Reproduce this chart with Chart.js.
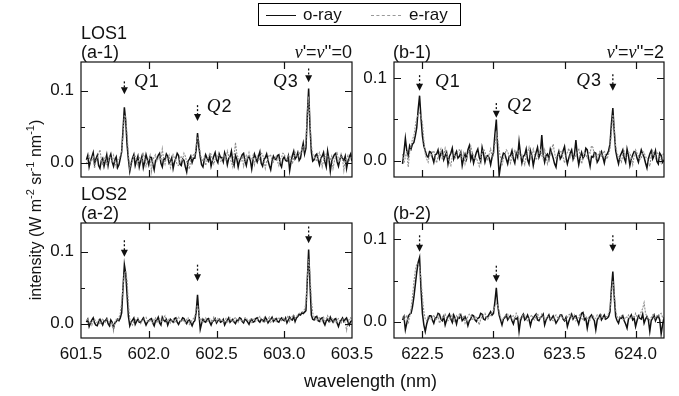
<!DOCTYPE html>
<html><head><meta charset="utf-8">
<script src="https://cdn.jsdelivr.net/npm/chart.js@4/dist/chart.umd.min.js"></script>
<style>
html,body{margin:0;padding:0;background:#fff;}
#wrap{position:relative;width:679px;height:396px;overflow:hidden;font-family:"Liberation Sans",Arial,sans-serif;color:#111;}
canvas{position:absolute;left:0;top:0;}
.lbl{position:absolute;font-size:18px;line-height:18px;white-space:nowrap;}
.vi{font-family:"Liberation Serif",serif;font-style:italic;}
#legend{position:absolute;left:258px;top:3px;width:203px;height:23px;border:1px solid #000;box-sizing:border-box;}
#legend .ln{position:absolute;top:11px;width:30px;height:0;}
#legend .tx{position:absolute;top:2px;font-size:17px;line-height:17px;}
#ytitle{position:absolute;left:-94px;top:201px;width:260px;height:18px;line-height:18px;text-align:center;font-size:16px;transform:rotate(-90deg);white-space:nowrap;}
#ytitle sup{font-size:11px;line-height:0;vertical-align:7px;}
</style></head><body>
<div id="wrap">
<canvas id="ca1" width="679" height="396"></canvas>
<canvas id="cb1" width="679" height="396"></canvas>
<canvas id="ca2" width="679" height="396"></canvas>
<canvas id="cb2" width="679" height="396"></canvas>
<div id="legend">
  <div class="ln" style="left:7px;border-top:1.6px solid #111;"></div>
  <div class="tx" style="left:44px;">o-ray</div>
  <div class="ln" style="left:112px;border-top:1px dashed #999;"></div>
  <div class="tx" style="left:150px;">e-ray</div>
</div>
<div class="lbl" style="left:81px;top:24px;">LOS1</div>
<div class="lbl" style="left:81px;top:43px;">(a-1)</div>
<div class="lbl" style="left:393px;top:43px;">(b-1)</div>
<div class="lbl" style="right:327px;top:43px;"><span class="vi">v</span>'=<span class="vi">v</span>''=0</div>
<div class="lbl" style="right:15px;top:43px;"><span class="vi">v</span>'=<span class="vi">v</span>''=2</div>
<div class="lbl" style="left:81px;top:185px;">LOS2</div>
<div class="lbl" style="left:81px;top:204px;">(a-2)</div>
<div class="lbl" style="left:393px;top:204px;">(b-2)</div>
<div class="lbl" style="left:304px;top:372px;">wavelength (nm)</div>
<div id="ytitle">intensity (W m<sup>-2</sup> sr<sup>-1</sup> nm<sup>-1</sup>)</div>
</div>
<script>
// ---- data ----
const waveA = [
601.54,601.55,601.56,601.57,601.58,601.59,601.60,601.61,601.62,601.63,601.64,601.65,601.66,601.67,601.68,601.69,601.70,601.71,601.72,601.73,
601.74,601.75,601.76,601.77,601.78,601.79,601.80,601.81,601.82,601.83,601.84,601.85,601.86,601.87,601.88,601.89,601.90,601.91,601.92,601.93,
601.94,601.95,601.96,601.97,601.98,601.99,602.00,602.01,602.02,602.03,602.04,602.05,602.06,602.07,602.08,602.09,602.10,602.11,602.12,602.13,
602.14,602.15,602.16,602.17,602.18,602.19,602.20,602.21,602.22,602.23,602.24,602.25,602.26,602.27,602.28,602.29,602.30,602.31,602.32,602.33,
602.34,602.35,602.36,602.37,602.38,602.39,602.40,602.41,602.42,602.43,602.44,602.45,602.46,602.47,602.48,602.49,602.50,602.51,602.52,602.53,
602.54,602.55,602.56,602.57,602.58,602.59,602.60,602.61,602.62,602.63,602.64,602.65,602.66,602.67,602.68,602.69,602.70,602.71,602.72,602.73,
602.74,602.75,602.76,602.77,602.78,602.79,602.80,602.81,602.82,602.83,602.84,602.85,602.86,602.87,602.88,602.89,602.90,602.91,602.92,602.93,
602.94,602.95,602.96,602.97,602.98,602.99,603.00,603.01,603.02,603.03,603.04,603.05,603.06,603.07,603.08,603.09,603.10,603.11,603.12,603.13,
603.14,603.15,603.16,603.17,603.18,603.19,603.20,603.21,603.22,603.23,603.24,603.25,603.26,603.27,603.28,603.29,603.30,603.31,603.32,603.33,
603.34,603.35,603.36,603.37,603.38,603.39,603.40,603.41,603.42,603.43,603.44,603.45,603.46,603.47,603.48,603.49,603.50];
const waveB = [
622.36,622.37,622.38,622.39,622.40,622.41,622.42,622.43,622.44,622.45,622.46,622.47,622.48,622.49,622.50,622.51,622.52,622.53,622.54,622.55,
622.56,622.57,622.58,622.59,622.60,622.61,622.62,622.63,622.64,622.65,622.66,622.67,622.68,622.69,622.70,622.71,622.72,622.73,622.74,622.75,
622.76,622.77,622.78,622.79,622.80,622.81,622.82,622.83,622.84,622.85,622.86,622.87,622.88,622.89,622.90,622.91,622.92,622.93,622.94,622.95,
622.96,622.97,622.98,622.99,623.00,623.01,623.02,623.03,623.04,623.05,623.06,623.07,623.08,623.09,623.10,623.11,623.12,623.13,623.14,623.15,
623.16,623.17,623.18,623.19,623.20,623.21,623.22,623.23,623.24,623.25,623.26,623.27,623.28,623.29,623.30,623.31,623.32,623.33,623.34,623.35,
623.36,623.37,623.38,623.39,623.40,623.41,623.42,623.43,623.44,623.45,623.46,623.47,623.48,623.49,623.50,623.51,623.52,623.53,623.54,623.55,
623.56,623.57,623.58,623.59,623.60,623.61,623.62,623.63,623.64,623.65,623.66,623.67,623.68,623.69,623.70,623.71,623.72,623.73,623.74,623.75,
623.76,623.77,623.78,623.79,623.80,623.81,623.82,623.83,623.84,623.85,623.86,623.87,623.88,623.89,623.90,623.91,623.92,623.93,623.94,623.95,
623.96,623.97,623.98,623.99,624.00,624.01,624.02,624.03,624.04,624.05,624.06,624.07,624.08,624.09,624.10,624.11,624.12,624.13,624.14,624.15,
624.16,624.17,624.18,624.19,624.20];

const a1_oray = [
0.004,0.010,-0.006,0.002,0.008,0.014,-0.002,0.005,0.010,-0.004,-0.008,0.003,0.006,-0.005,0.003,0.011,-0.004,0.007,0.012,0.001,
-0.005,0.004,0.008,-0.007,-0.003,0.006,0.015,0.045,0.077,0.058,0.025,0.004,-0.012,-0.002,0.006,0.011,-0.004,0.003,0.009,-0.006,
0.002,0.009,-0.007,0.001,0.011,0.004,-0.003,0.008,0.007,-0.002,-0.010,0.003,0.005,0.010,0.013,-0.001,-0.006,0.006,0.004,0.012,
0.009,-0.001,0.002,0.007,-0.008,0.001,0.006,0.013,0.010,-0.002,-0.004,0.005,0.003,-0.006,-0.013,0.002,0.005,0.009,0.000,0.006,
0.006,0.018,0.041,0.022,0.008,-0.003,-0.006,0.004,0.011,0.006,0.002,0.009,-0.005,0.003,0.009,0.014,0.004,0.000,0.012,0.007,
0.007,0.001,0.014,0.008,-0.003,0.006,0.008,0.016,0.002,-0.004,0.010,0.005,-0.006,0.003,0.006,0.011,0.013,0.002,-0.004,0.007,
0.008,0.003,-0.009,0.004,0.012,0.006,0.001,0.009,0.015,-0.001,-0.005,0.004,0.007,0.012,0.003,-0.004,-0.010,0.002,0.009,0.005,
0.004,0.010,0.011,-0.002,-0.006,0.005,0.008,0.003,0.002,0.009,-0.011,0.001,0.010,0.016,0.005,0.008,0.014,0.003,0.006,0.018,
0.027,0.012,0.020,0.065,0.103,0.050,0.015,0.002,0.004,0.010,0.012,0.004,-0.003,0.006,0.009,0.014,0.001,-0.006,0.016,0.005,
-0.012,0.002,0.007,0.011,0.013,0.001,-0.005,0.004,0.010,0.006,0.003,0.009,-0.008,0.002,0.008,0.012,0.002];
const a1_eray = [
-0.002,0.005,0.009,0.001,0.003,0.010,-0.008,0.002,0.006,0.012,0.018,0.004,-0.004,0.003,0.008,-0.002,0.001,0.009,0.007,0.002,
0.010,0.002,-0.006,0.004,0.005,0.009,0.015,0.038,0.066,0.064,0.040,0.012,-0.008,0.001,0.003,0.010,0.009,0.002,-0.003,0.007,
0.006,0.001,0.012,0.007,-0.005,0.002,0.004,0.010,-0.012,0.003,0.008,0.011,0.002,0.006,0.009,0.003,0.019,0.005,-0.002,0.008,
0.005,0.010,-0.007,0.000,0.011,0.006,0.003,-0.003,-0.004,0.007,0.008,0.004,0.013,0.009,0.001,-0.002,-0.009,0.004,0.007,0.011,
0.010,0.024,0.036,0.030,0.012,0.005,0.002,0.008,-0.004,0.003,0.007,0.013,0.012,0.004,-0.002,0.005,0.006,0.011,0.009,0.002,
0.003,0.008,0.011,0.004,0.016,0.009,0.005,0.001,-0.006,0.010,0.028,0.012,0.007,0.003,0.002,0.009,-0.005,0.004,0.010,0.006,
0.014,0.006,0.004,0.010,-0.003,0.005,0.009,0.002,0.006,0.013,0.012,0.003,-0.008,0.002,0.005,0.011,0.010,0.004,0.001,0.007,
0.008,0.002,-0.004,0.005,0.007,0.013,0.012,0.006,0.003,0.010,0.009,0.004,-0.002,0.008,0.014,0.009,0.008,0.015,0.011,0.020,
0.022,0.018,0.031,0.070,0.092,0.060,0.024,0.012,0.008,0.005,0.002,0.009,0.014,0.006,-0.006,0.003,0.007,0.012,0.010,0.003,
0.004,0.009,-0.008,0.002,0.009,0.013,0.005,0.001,0.012,0.006,-0.011,0.003,0.006,0.010,0.003,0.005,0.009];
const b1_oray = [
-0.004,0.010,0.027,0.012,0.006,0.018,0.014,0.020,0.022,0.030,0.040,0.062,0.079,0.052,0.030,0.018,0.012,0.006,0.004,0.011,
0.010,0.004,-0.002,0.007,0.008,0.013,0.003,0.009,0.012,0.001,0.006,0.010,-0.004,0.005,0.009,0.015,0.002,0.007,0.011,0.003,
0.005,0.010,-0.006,0.003,0.008,0.002,0.013,0.018,0.001,0.007,-0.003,0.004,0.010,0.014,0.004,-0.001,0.016,0.008,-0.002,0.005,
0.006,0.003,-0.005,0.004,0.010,0.032,0.050,0.012,-0.018,-0.006,0.003,0.009,0.008,0.002,-0.004,0.005,0.006,0.012,0.002,-0.003,
0.009,0.004,0.023,0.008,-0.003,0.005,0.007,0.014,0.001,-0.004,0.012,0.006,-0.006,0.003,0.010,0.016,0.004,0.009,0.031,0.007,
-0.002,0.006,0.008,0.002,0.014,0.009,0.003,-0.004,-0.008,0.005,0.011,0.002,0.005,0.012,0.017,0.004,-0.004,0.003,0.009,0.013,
0.002,0.008,0.025,0.006,-0.005,0.004,0.010,0.003,0.006,0.015,0.013,0.002,-0.007,0.005,0.004,0.010,0.009,-0.002,0.001,0.008,
0.011,0.004,-0.003,0.006,0.008,0.012,0.020,0.045,0.064,0.035,0.012,0.003,-0.004,0.005,0.009,0.013,0.003,-0.002,0.014,0.006,
-0.006,0.002,0.007,0.011,0.010,0.003,-0.002,0.006,0.013,0.008,0.004,-0.003,-0.009,0.002,0.008,0.012,0.002,0.006,0.012,-0.001,
-0.004,0.009,0.006,-0.002,0.001];
const b1_eray = [
0.008,-0.003,0.004,0.012,-0.008,0.010,0.018,0.026,0.030,0.042,0.052,0.056,0.058,0.055,0.046,0.025,0.008,0.002,-0.002,0.007,
0.006,0.010,0.012,0.003,-0.003,0.005,0.009,0.014,0.001,0.006,0.015,0.008,0.004,-0.002,-0.006,0.005,0.010,0.003,0.005,0.012,
0.013,0.006,0.002,0.009,-0.004,0.003,0.008,0.012,0.018,0.010,0.006,0.001,0.003,-0.002,-0.007,0.004,0.009,0.014,0.011,0.004,
0.001,0.008,0.014,0.004,0.006,0.020,0.034,0.026,0.012,0.003,-0.006,0.002,0.007,0.013,0.011,0.005,-0.003,0.004,0.008,0.012,
0.005,0.009,0.012,0.004,0.007,0.001,-0.005,0.006,0.010,0.016,0.003,0.008,0.014,0.006,0.001,0.005,0.009,0.013,0.006,0.002,
0.013,0.005,-0.004,0.003,0.008,0.014,0.020,0.009,0.002,0.006,0.007,0.011,0.012,0.004,-0.003,0.006,0.010,0.015,0.004,0.008,
0.008,0.003,0.006,0.011,0.015,0.005,-0.004,0.002,0.011,0.007,0.003,0.010,0.009,0.018,0.016,0.006,0.002,0.008,0.007,0.012,
0.004,0.009,0.012,0.005,0.002,0.008,0.014,0.034,0.056,0.042,0.018,0.008,0.006,0.001,-0.002,0.007,0.011,0.004,0.005,0.010,
0.009,0.003,-0.005,0.006,0.013,0.009,0.006,0.002,0.002,0.011,0.010,0.004,0.004,-0.002,-0.007,0.006,0.012,0.008,0.003,0.010,
0.008,0.002,-0.003,0.006,0.010];
const a2_oray = [
0.002,0.006,-0.004,0.001,0.005,0.008,0.001,-0.002,-0.003,0.003,0.006,0.002,-0.002,0.004,0.004,0.007,0.000,-0.003,0.005,0.002,
-0.006,0.001,0.003,0.006,0.004,0.008,0.015,0.050,0.082,0.070,0.040,0.010,-0.003,0.002,0.005,0.008,-0.001,0.003,0.006,0.002,
0.002,0.005,0.008,0.003,-0.002,0.002,0.004,0.006,0.007,0.001,-0.003,0.004,0.005,0.009,0.001,-0.002,0.009,0.005,0.003,0.006,
-0.002,0.003,0.006,0.004,0.002,0.007,0.008,0.002,-0.001,0.003,0.004,0.008,0.007,0.003,0.000,0.004,0.005,0.001,-0.003,0.002,
0.004,0.016,0.040,0.014,-0.008,0.000,0.006,0.003,0.002,0.006,0.007,0.002,-0.002,0.003,0.004,0.007,0.001,0.004,0.006,0.002,
0.003,0.006,-0.002,0.002,0.005,0.008,0.002,0.004,0.006,0.002,0.000,0.005,0.004,0.008,0.007,0.003,0.001,0.006,0.005,0.002,
-0.001,0.004,0.006,0.002,0.003,0.007,0.008,0.004,0.002,0.006,0.005,0.003,0.009,0.006,0.001,0.004,0.006,0.009,0.003,0.005,
0.007,0.003,0.002,0.006,0.008,0.005,0.004,0.008,0.001,0.005,0.009,0.006,0.005,0.010,0.003,0.008,0.010,0.013,0.012,0.015,
0.014,0.016,0.018,0.060,0.103,0.055,0.012,0.006,0.005,0.009,0.010,0.004,0.003,0.007,0.008,0.002,-0.002,0.004,0.006,0.003,
0.009,0.005,0.002,0.006,0.007,0.001,-0.004,0.002,0.005,0.008,0.003,0.006,0.008,0.002,-0.002,0.003,0.004];
const a2_eray = [
0.004,0.007,0.001,0.003,-0.002,0.004,0.006,0.002,0.002,0.005,-0.001,0.003,0.007,0.004,0.002,0.006,0.005,0.001,-0.003,0.002,
-0.010,0.002,0.006,0.004,0.008,0.014,0.030,0.052,0.070,0.072,0.060,0.028,0.006,0.001,-0.002,0.003,0.004,0.007,0.008,0.003,
0.000,0.004,0.005,0.008,0.009,0.004,0.002,0.006,0.003,0.001,0.006,0.008,0.001,0.004,0.007,0.003,0.004,0.008,0.011,0.005,
0.003,0.006,0.001,0.004,0.006,0.002,0.004,0.007,0.009,0.005,0.002,0.006,0.003,0.001,0.006,0.008,-0.001,0.002,0.005,0.007,
0.010,0.020,0.026,0.016,0.004,0.006,0.002,0.005,0.008,0.004,0.003,0.007,0.005,0.002,0.009,0.006,0.003,0.007,0.004,0.006,
0.006,0.002,0.004,0.007,0.001,0.005,0.008,0.004,0.003,0.006,0.009,0.005,0.002,0.007,0.005,0.003,0.004,0.008,0.008,0.004,
0.004,0.007,0.002,0.005,0.007,0.003,0.005,0.008,0.010,0.006,0.003,0.007,0.004,0.002,0.006,0.009,0.002,0.005,0.008,0.006,
0.003,0.006,0.009,0.005,0.004,0.008,0.006,0.003,0.008,0.011,0.003,0.007,0.010,0.012,0.007,0.010,0.012,0.014,0.015,0.016,
0.017,0.020,0.028,0.064,0.090,0.070,0.034,0.015,0.009,0.006,0.004,0.008,0.008,0.003,0.006,0.009,0.004,0.007,0.011,0.005,
0.003,0.007,0.006,0.002,0.002,0.005,0.007,0.003,0.001,0.006,0.004,0.002,-0.009,0.003,0.006,0.008,0.003];
const b2_oray = [
0.002,0.006,-0.010,-0.002,0.006,0.009,0.010,0.018,0.030,0.045,0.060,0.072,0.078,0.040,0.010,-0.004,-0.012,-0.003,0.003,0.007,
0.007,0.002,-0.002,0.004,0.005,0.010,0.009,0.003,0.001,0.006,-0.004,0.002,0.006,0.009,0.003,-0.001,0.008,0.004,-0.003,0.005,
0.004,0.008,0.001,0.003,0.006,0.002,-0.005,0.001,0.003,0.008,0.007,0.002,0.000,0.004,0.005,0.010,0.009,0.003,0.002,0.006,
0.006,0.009,0.012,0.008,0.010,0.024,0.041,0.020,0.008,0.002,-0.004,0.003,0.005,0.008,0.002,0.005,0.007,0.001,-0.003,0.004,
0.003,0.005,-0.012,0.001,0.006,0.009,0.002,0.004,0.008,0.003,-0.005,0.002,0.004,0.007,0.009,0.002,0.001,0.005,0.006,0.009,
-0.004,0.002,0.005,0.008,0.002,0.004,0.007,0.003,-0.002,0.001,0.004,0.008,0.008,0.003,0.001,0.005,-0.006,0.000,0.005,0.009,
0.003,0.006,0.007,0.002,-0.003,0.004,0.010,0.011,0.002,0.004,-0.008,0.001,0.006,0.008,0.004,0.001,-0.010,0.002,0.005,0.008,
0.002,0.005,0.008,0.003,0.004,0.006,0.012,0.040,0.061,0.030,0.006,0.001,-0.002,0.005,0.004,0.007,0.001,-0.003,-0.008,0.003,
0.005,0.008,0.002,0.004,-0.006,0.001,0.007,0.004,0.003,0.009,-0.002,0.003,0.006,0.002,-0.012,0.001,0.004,0.008,0.001,0.005,
0.007,0.002,-0.015,-0.004,0.005];
const b2_eray = [
0.006,0.002,0.004,0.008,-0.003,0.006,0.016,0.030,0.048,0.062,0.070,0.070,0.066,0.052,0.030,0.012,0.003,0.001,0.006,0.004,
0.002,0.005,0.008,0.004,0.003,0.007,-0.002,0.002,0.006,0.004,0.009,0.005,0.001,0.003,0.005,0.008,-0.001,0.003,0.007,0.004,
0.009,0.005,0.004,0.007,-0.002,0.002,0.006,0.009,0.008,0.003,0.002,0.006,0.005,0.001,-0.004,0.003,0.006,0.008,0.010,0.006,
0.003,0.006,0.008,0.011,0.014,0.018,0.022,0.020,0.012,0.005,0.001,0.004,0.006,0.008,0.009,0.004,0.003,0.006,0.007,0.003,
0.010,0.006,0.002,0.004,0.005,0.009,0.008,0.003,0.001,0.004,0.006,0.008,0.003,0.002,0.007,0.010,0.005,0.003,0.009,0.006,
0.002,0.004,0.007,0.005,0.004,0.002,0.001,0.006,0.008,0.005,0.003,0.007,0.006,0.004,0.002,0.003,0.005,0.008,0.009,0.004,
0.005,0.008,0.001,0.003,0.006,0.009,0.004,0.002,0.008,0.006,0.003,0.005,0.002,0.006,0.007,0.004,0.004,0.008,0.006,0.003,
0.008,0.005,0.003,0.006,0.006,0.010,0.016,0.034,0.050,0.036,0.014,0.006,0.004,0.005,0.007,0.003,0.002,0.006,0.005,0.008,
0.003,0.005,0.007,0.004,0.010,0.006,0.004,0.008,0.012,0.016,0.023,0.010,0.006,0.003,0.002,0.005,0.008,0.006,0.004,0.007,
0.006,0.009,0.010,0.005,0.003];

const yTickLabels = ['0.0','0.1'];

// ---- annotations (data units) ----
const arrowsA1 = [{x:601.82,tip:0.095,top:0.113},{x:602.36,tip:0.058,top:0.080},{x:603.18,tip:0.112,top:0.131}];
const arrowsB1 = [{x:622.48,tip:0.085,top:0.104},{x:623.02,tip:0.052,top:0.070},{x:623.84,tip:0.085,top:0.105}];
const arrowsA2 = [{x:601.82,tip:0.093,top:0.116},{x:602.36,tip:0.059,top:0.082},{x:603.18,tip:0.112,top:0.135}];
const arrowsB2 = [{x:622.48,tip:0.085,top:0.105},{x:623.02,tip:0.048,top:0.068},{x:623.84,tip:0.085,top:0.105}];
const qA1 = [{n:'1',x:601.891,y:0.112},{n:'2',x:602.428,y:0.077},{n:'3',x:602.917,y:0.112}];
const qB1 = [{n:'1',x:622.589,y:0.0955},{n:'2',x:623.096,y:0.067},{n:'3',x:623.582,y:0.0967}];

const W = 679, H = 396;
const FONT = '"Liberation Sans", Arial, sans-serif';

const deco = {
  id: 'deco',
  afterDatasetsDraw(chart, args, opts) {
    const ctx = chart.ctx, a = chart.chartArea, xs = chart.scales.x, ys = chart.scales.y;
    ctx.save();
    ctx.strokeStyle = '#111';
    ctx.lineWidth = 1.2;
    ctx.strokeRect(a.left, a.top, a.right - a.left, a.bottom - a.top);
    ctx.beginPath();
    xs.ticks.forEach(t => {
      const px = Math.round(xs.getPixelForValue(t.value)) + 0.5;
      if (px <= a.left + 2 || px >= a.right - 2) return;
      ctx.moveTo(px, a.bottom); ctx.lineTo(px, a.bottom - 7);
      ctx.moveTo(px, a.top); ctx.lineTo(px, a.top + 7);
    });
    ys.ticks.forEach(t => {
      const py = Math.round(ys.getPixelForValue(t.value)) + 0.5;
      if (py <= a.top + 2 || py >= a.bottom - 2) return;
      const major = Math.abs(Math.round(t.value * 10) - t.value * 10) < 1e-6;
      const len = major ? 7 : 4;
      ctx.moveTo(a.left, py); ctx.lineTo(a.left + len, py);
      ctx.moveTo(a.right, py); ctx.lineTo(a.right - len, py);
    });
    ctx.stroke();
    // arrows
    (opts.arrows || []).forEach(ar => {
      const px = xs.getPixelForValue(ar.x);
      const tip = ys.getPixelForValue(ar.tip);
      const top = ys.getPixelForValue(ar.top);
      ctx.beginPath();
      ctx.setLineDash([2, 2]);
      ctx.lineWidth = 1.3;
      ctx.moveTo(px, top); ctx.lineTo(px, tip - 6);
      ctx.stroke();
      ctx.setLineDash([]);
      ctx.beginPath();
      ctx.fillStyle = '#111';
      ctx.moveTo(px - 3.5, tip - 7); ctx.lineTo(px + 3.5, tip - 7); ctx.lineTo(px, tip);
      ctx.closePath(); ctx.fill();
    });
    // Q labels
    (opts.q || []).forEach(q => {
      const px = xs.getPixelForValue(q.x), py = ys.getPixelForValue(q.y);
      ctx.fillStyle = '#111';
      ctx.textBaseline = 'middle'; ctx.textAlign = 'left';
      ctx.font = 'italic 19px "Liberation Serif", serif';
      ctx.fillText('Q', px, py);
      const w = ctx.measureText('Q').width;
      ctx.font = '18px ' + FONT;
      ctx.fillText(q.n, px + w + 1, py);
    });
    ctx.restore();
  }
};

function makeChart(id, p) {
  const xAxisH = p.showX ? 40 : 0;
  const yAxisW = 40;
  return new Chart(document.getElementById(id), {
    type: 'line',
    data: {
      datasets: [
        {label: 'o-ray', data: p.wave.map((w, i) => ({x: w, y: p.o[i]})), borderColor: '#111', borderWidth: 1.5, pointRadius: 0, tension: 0, order: 2},
        {label: 'e-ray', data: p.wave.map((w, i) => ({x: w, y: p.e[i]})), borderColor: '#8e8e8e', borderWidth: 1.1, borderDash: [2, 1.2], pointRadius: 0, tension: 0, order: 1}
      ]
    },
    options: {
      responsive: false, animation: false, events: [],
      layout: {padding: {left: p.box.left - yAxisW, right: W - p.box.right, top: p.box.top, bottom: H - p.box.bottom - xAxisH}},
      plugins: {legend: {display: false}, tooltip: {enabled: false}, deco: {arrows: p.arrows, q: p.q}},
      scales: {
        x: {
          type: 'linear', min: p.xr[0], max: p.xr[1],
          grid: {display: false, drawTicks: false}, border: {display: false},
          ticks: {display: p.showX, stepSize: 0.5, includeBounds: false, autoSkip: false, maxRotation: 0, padding: 6,
                  font: {family: FONT, size: 17}, color: '#111', callback: v => v.toFixed(1)},
          afterFit: s => { s.height = xAxisH; }
        },
        y: {
          type: 'linear', min: p.yr[0], max: p.yr[1],
          grid: {display: false, drawTicks: false}, border: {display: false},
          ticks: {stepSize: 0.05, includeBounds: false, padding: 7, autoSkip: false, font: {family: FONT, size: 17}, color: '#111',
                  callback: v => { const s = (Math.abs(v) < 1e-9 ? 0 : v).toFixed(1); return (Math.abs(v * 10 - Math.round(v * 10)) < 1e-6 && yTickLabels.includes(s)) ? s : ''; }},
          afterFit: s => { s.width = yAxisW; }
        }
      }
    },
    plugins: [deco]
  });
}

makeChart('ca1', {wave: waveA, o: a1_oray, e: a1_eray, xr: [601.5, 603.5], yr: [-0.02, 0.14], box: {left: 81, right: 352, top: 62, bottom: 177}, showX: false, arrows: arrowsA1, q: qA1});
makeChart('cb1', {wave: waveB, o: b1_oray, e: b1_eray, xr: [622.3, 624.2], yr: [-0.02, 0.12], box: {left: 394, right: 664, top: 62, bottom: 177}, showX: false, arrows: arrowsB1, q: qB1});
makeChart('ca2', {wave: waveA, o: a2_oray, e: a2_eray, xr: [601.5, 603.5], yr: [-0.02, 0.14], box: {left: 81, right: 352, top: 223, bottom: 338}, showX: true, arrows: arrowsA2, q: []});
makeChart('cb2', {wave: waveB, o: b2_oray, e: b2_eray, xr: [622.3, 624.2], yr: [-0.02, 0.12], box: {left: 394, right: 664, top: 223, bottom: 338}, showX: true, arrows: arrowsB2, q: []});
</script>
</body></html>
